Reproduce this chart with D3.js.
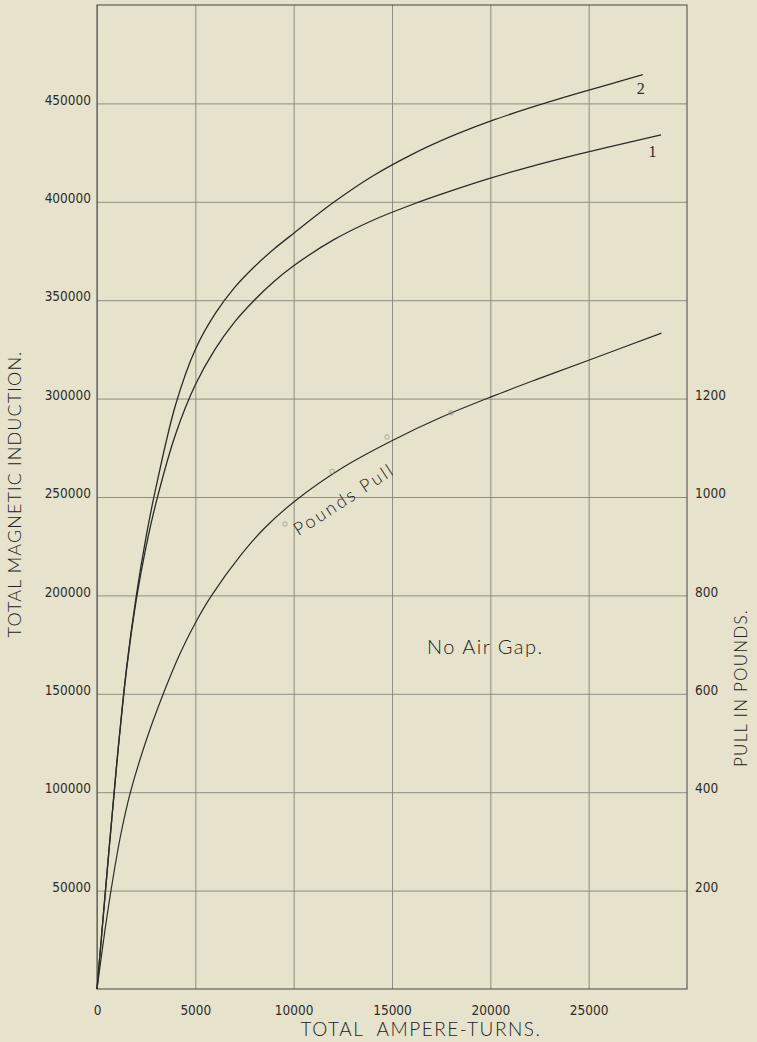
<!DOCTYPE html>
<html>
<head>
<meta charset="utf-8">
<script src="https://cdn.jsdelivr.net/npm/d3@7"></script>
<style>
  html, body { margin: 0; padding: 0; background: #e6e2cc; }
  svg { display: block; }
  .tick text { font-family: "Liberation Sans Narrow", "DejaVu Sans Condensed", "Roboto", sans-serif; font-size: 13.5px; fill: #2c2c29; }
  .title { font-family: Lato, "Open Sans", sans-serif; font-weight: 300; fill: #222220; }
</style>
</head>
<body>
<svg id="chart" width="757" height="1042"></svg>
<script>
// ---- data ----
const xTicks = [0, 5000, 10000, 15000, 20000, 25000];
const yTicks = [50000, 100000, 150000, 200000, 250000, 300000, 350000, 400000, 450000];
const pullTicks = [200, 400, 600, 800, 1000, 1200];

// curve 1 : total magnetic induction vs ampere-turns
const curve1X = [0, 500, 1000, 1500, 2000, 2500, 3000, 4000, 5000, 6000, 7000, 8000, 9000, 10000, 12000, 14000, 16000, 18000, 20000, 22000, 24000, 26000, 28680];
const curve1Y = [0, 58000, 114000, 162000, 198000, 225000, 247000, 282000, 307000, 325000, 339000, 350000, 359500, 367500, 380500, 390500, 398500, 405500, 412000, 417800, 423000, 427800, 434000];

// curve 2
const curve2X = [0, 500, 1000, 1500, 2000, 2500, 3000, 4000, 5000, 6000, 7000, 8000, 9000, 10000, 12000, 14000, 16000, 18000, 20000, 22000, 24000, 26000, 27750];
const curve2Y = [0, 58000, 114000, 163000, 200000, 230000, 255000, 297000, 325000, 343000, 356500, 367000, 376000, 384000, 399500, 413000, 424000, 433200, 441000, 447700, 453800, 459600, 464600];

// pounds pull (right axis, pounds)
const pullX = [0, 400, 800, 1200, 1700, 2500, 3370, 4200, 5000, 5830, 7270, 8500, 10070, 12500, 15070, 17500, 20070, 22500, 25000, 28700];
const pullY = [0, 118, 222, 312, 400, 505, 600, 680, 744, 800, 880, 936, 992, 1060, 1116, 1162, 1204, 1241, 1278, 1333];

// observation circles on pull curve
const obsX = [9560, 11950, 14750, 18000];
const obsY = [945, 1052, 1122, 1171];

// ---- layout ----
const svg = d3.select("#chart");
const x = d3.scaleLinear().domain([0, 30000]).range([97, 687]);
const y = d3.scaleLinear().domain([0, 500000]).range([989, 5]);
const yR = d3.scaleLinear().domain([0, 2000]).range([989, 5]);

const gridColor = "#85847a";
const ink = "#2b2b28";

// left axis + horizontal grid
const gy = svg.append("g").attr("transform", `translate(${x(0)},0)`)
  .call(d3.axisLeft(y).tickValues(yTicks).tickSize(-(x(30000) - x(0))).tickPadding(6).tickFormat(d3.format("d")));
gy.select(".domain").remove();
gy.selectAll(".tick line").attr("stroke", gridColor).attr("stroke-width", 0.9);
gy.selectAll(".tick text").attr("dy", "0.05em");

// bottom axis + vertical grid
const gx = svg.append("g").attr("transform", `translate(0,${y(0)})`)
  .call(d3.axisBottom(x).tickValues(xTicks).tickSize(-(y(0) - y(500000))).tickPadding(16).tickFormat(d3.format("d")));
gx.select(".domain").remove();
gx.selectAll(".tick line").attr("stroke", gridColor).attr("stroke-width", 0.9);

// right axis (pull)
const gr = svg.append("g").attr("transform", `translate(${x(30000)},0)`)
  .call(d3.axisRight(yR).tickValues(pullTicks).tickSize(0).tickPadding(8).tickFormat(d3.format("d")));
gr.select(".domain").remove();
gr.selectAll(".tick text").attr("dy", "0.05em");

// frame
svg.append("rect")
  .attr("x", x(0)).attr("y", y(500000))
  .attr("width", x(30000) - x(0)).attr("height", y(0) - y(500000))
  .attr("fill", "none").attr("stroke", "#55544e").attr("stroke-width", 1.1);

// curves
const line = d3.line().x(d => x(d[0])).y(d => y(d[1])).curve(d3.curveCatmullRom.alpha(0.5));
const lineR = d3.line().x(d => x(d[0])).y(d => yR(d[1])).curve(d3.curveCatmullRom.alpha(0.5));

svg.append("path").datum(d3.zip(curve1X, curve1Y)).attr("d", line)
  .attr("fill", "none").attr("stroke", ink).attr("stroke-width", 1.3);
svg.append("path").datum(d3.zip(curve2X, curve2Y)).attr("d", line)
  .attr("fill", "none").attr("stroke", ink).attr("stroke-width", 1.3);
svg.append("path").datum(d3.zip(pullX, pullY)).attr("d", lineR)
  .attr("fill", "none").attr("stroke", ink).attr("stroke-width", 1.2);

svg.selectAll("circle.obs").data(d3.zip(obsX, obsY)).join("circle")
  .attr("class", "obs")
  .attr("cx", d => x(d[0])).attr("cy", d => yR(d[1])).attr("r", 2.2)
  .attr("fill", "none").attr("stroke", "#9a998e").attr("stroke-width", 0.8);

// curve labels
svg.append("text").attr("x", x(27650)).attr("y", y(455000))
  .attr("text-anchor", "middle")
  .style("font-family", "'Liberation Serif', 'DejaVu Serif', serif").style("font-size", "16px")
  .attr("fill", ink).text("2");
svg.append("text").attr("x", x(28250)).attr("y", y(423000))
  .attr("text-anchor", "middle")
  .style("font-family", "'Liberation Serif', 'DejaVu Serif', serif").style("font-size", "16px")
  .attr("fill", ink).text("1");

// Pounds Pull label
svg.append("text")
  .attr("transform", `translate(${x(10250)},${yR(920)}) rotate(-33)`)
  .attr("class", "title").style("font-size", "18px").style("letter-spacing", "2.4px")
  .text("Pounds Pull");

// No Air Gap
svg.append("text").attr("x", x(16780)).attr("y", y(170000))
  .attr("class", "title").style("font-size", "20px").style("letter-spacing", "1.5px")
  .text("No Air Gap.");

// axis titles
svg.append("text").attr("x", 421).attr("y", 1036).attr("text-anchor", "middle")
  .attr("class", "title").style("font-size", "19px").style("letter-spacing", "1.5px")
  .attr("xml:space", "preserve")
  .text("TOTAL  AMPERE-TURNS.");

svg.append("text").attr("transform", "translate(21,494) rotate(-90)").attr("text-anchor", "middle")
  .attr("class", "title").style("font-size", "18px").style("letter-spacing", "1.1px")
  .text("TOTAL MAGNETIC INDUCTION.");

svg.append("text").attr("transform", "translate(747,688) rotate(-90)").attr("text-anchor", "middle")
  .attr("class", "title").style("font-size", "17px").style("letter-spacing", "1.2px")
  .text("PULL IN POUNDS.");
</script>
</body>
</html>
